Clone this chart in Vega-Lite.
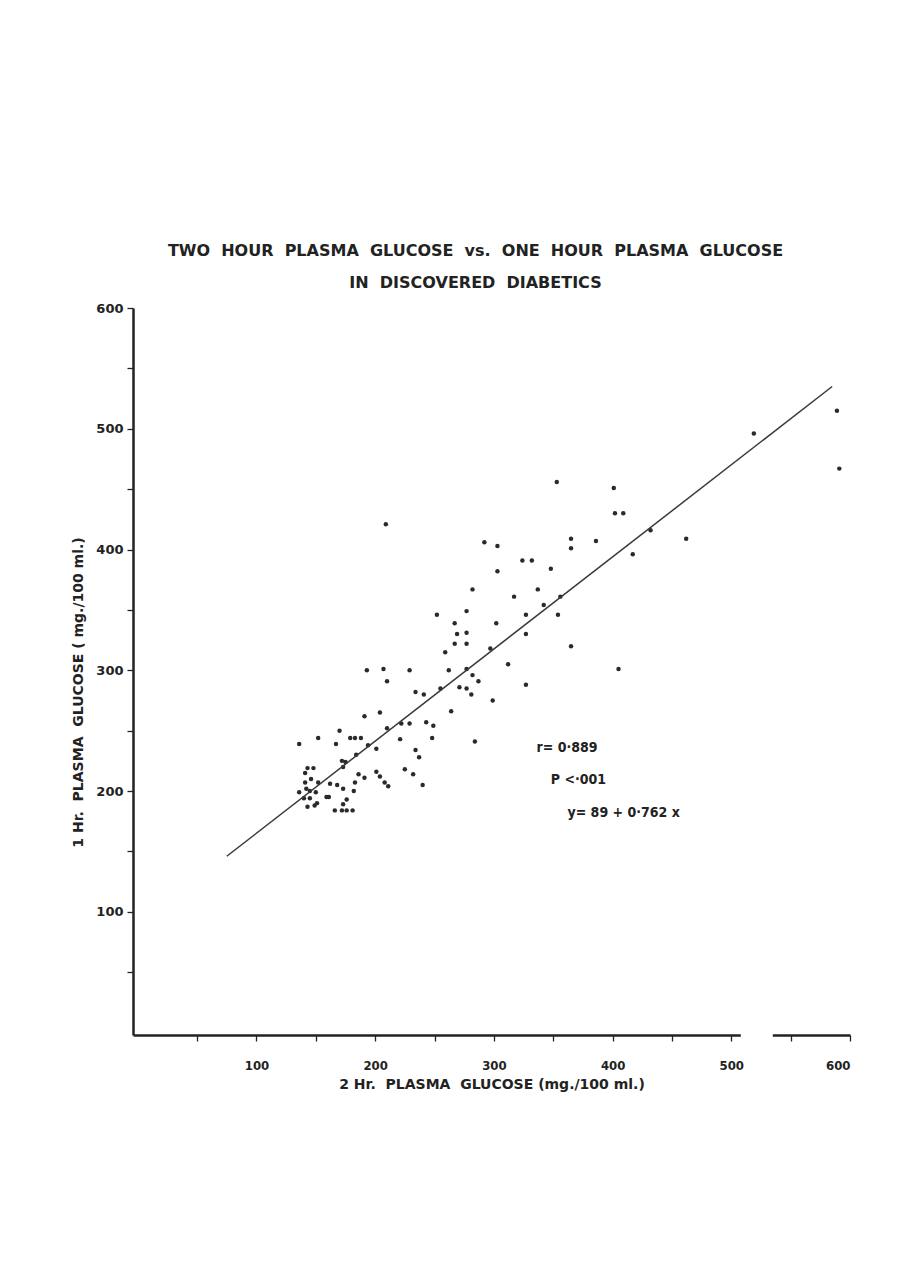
{
  "$schema": "https://vega.github.io/schema/vega-lite/v6.json",
  "width": 717,
  "height": 727,
  "autosize": "none",
  "padding": {"left": 133, "top": 308, "right": 66, "bottom": 252},
  "background": "white",
  "config": {
    "view": {"stroke": null},
    "font": "DejaVu Sans, sans-serif",
    "axis": {
      "grid": false,
      "domainColor": "#222",
      "domainWidth": 2.5,
      "tickColor": "#222",
      "tickWidth": 1.3,
      "tickSize": 6,
      "labelFont": "DejaVu Sans Condensed, DejaVu Sans, sans-serif",
      "labelFontWeight": "bold",
      "labelFontSize": 13,
      "labelColor": "#222",
      "titleFont": "DejaVu Sans, sans-serif",
      "titleFontWeight": "bold",
      "titleFontSize": 14,
      "titleColor": "#222"
    }
  },
  "title": {
    "text": ["TWO\u00a0 HOUR\u00a0 PLASMA\u00a0 GLUCOSE\u00a0 vs.\u00a0 ONE\u00a0 HOUR\u00a0 PLASMA\u00a0 GLUCOSE", "IN\u00a0 DISCOVERED\u00a0 DIABETICS"],
    "font": "DejaVu Sans, sans-serif",
    "fontSize": 16,
    "fontWeight": "bold",
    "color": "#222",
    "lineHeight": 32,
    "offset": 11,
    "dx": -16,
    "anchor": "middle"
  },
  "datasets": {
    "points": [
      {"x2h": 353, "y1h": 456}, {"x2h": 401, "y1h": 451}, {"x2h": 402, "y1h": 430}, {"x2h": 409, "y1h": 430},
      {"x2h": 209, "y1h": 421}, {"x2h": 292, "y1h": 406}, {"x2h": 303, "y1h": 403}, {"x2h": 365, "y1h": 409},
      {"x2h": 365, "y1h": 401}, {"x2h": 386, "y1h": 407}, {"x2h": 324, "y1h": 391}, {"x2h": 332, "y1h": 391},
      {"x2h": 303, "y1h": 382}, {"x2h": 348, "y1h": 384}, {"x2h": 282, "y1h": 367}, {"x2h": 337, "y1h": 367},
      {"x2h": 317, "y1h": 361}, {"x2h": 356, "y1h": 361}, {"x2h": 342, "y1h": 354}, {"x2h": 432, "y1h": 416},
      {"x2h": 417, "y1h": 396}, {"x2h": 462, "y1h": 409}, {"x2h": 519, "y1h": 496}, {"x2h": 589, "y1h": 515},
      {"x2h": 591, "y1h": 467}, {"x2h": 327, "y1h": 346}, {"x2h": 354, "y1h": 346}, {"x2h": 327, "y1h": 330},
      {"x2h": 365, "y1h": 320}, {"x2h": 405, "y1h": 301}, {"x2h": 327, "y1h": 288},
      {"x2h": 252, "y1h": 346}, {"x2h": 277, "y1h": 349}, {"x2h": 267, "y1h": 339}, {"x2h": 302, "y1h": 339},
      {"x2h": 269, "y1h": 330}, {"x2h": 277, "y1h": 331}, {"x2h": 267, "y1h": 322}, {"x2h": 277, "y1h": 322},
      {"x2h": 259, "y1h": 315}, {"x2h": 297, "y1h": 318}, {"x2h": 312, "y1h": 305}, {"x2h": 207, "y1h": 301},
      {"x2h": 229, "y1h": 300}, {"x2h": 262, "y1h": 300}, {"x2h": 277, "y1h": 301}, {"x2h": 282, "y1h": 296},
      {"x2h": 287, "y1h": 291}, {"x2h": 210, "y1h": 291}, {"x2h": 271, "y1h": 286}, {"x2h": 277, "y1h": 285},
      {"x2h": 281, "y1h": 280}, {"x2h": 255, "y1h": 285}, {"x2h": 234, "y1h": 282}, {"x2h": 241, "y1h": 280},
      {"x2h": 299, "y1h": 275}, {"x2h": 264, "y1h": 266}, {"x2h": 204, "y1h": 265}, {"x2h": 210, "y1h": 252},
      {"x2h": 222, "y1h": 256}, {"x2h": 229, "y1h": 256}, {"x2h": 243, "y1h": 257}, {"x2h": 249, "y1h": 254},
      {"x2h": 221, "y1h": 243}, {"x2h": 248, "y1h": 244}, {"x2h": 284, "y1h": 241}, {"x2h": 234, "y1h": 234},
      {"x2h": 237, "y1h": 228}, {"x2h": 225, "y1h": 218}, {"x2h": 232, "y1h": 214}, {"x2h": 240, "y1h": 205},
      {"x2h": 204, "y1h": 212}, {"x2h": 208, "y1h": 207}, {"x2h": 211, "y1h": 204},
      {"x2h": 193, "y1h": 300}, {"x2h": 191, "y1h": 262}, {"x2h": 170, "y1h": 250}, {"x2h": 152, "y1h": 244},
      {"x2h": 136, "y1h": 239}, {"x2h": 167, "y1h": 239}, {"x2h": 179, "y1h": 244}, {"x2h": 183, "y1h": 244},
      {"x2h": 188, "y1h": 244}, {"x2h": 194, "y1h": 238}, {"x2h": 201, "y1h": 235}, {"x2h": 172, "y1h": 225},
      {"x2h": 175, "y1h": 224}, {"x2h": 173, "y1h": 220}, {"x2h": 184, "y1h": 230}, {"x2h": 143, "y1h": 219},
      {"x2h": 148, "y1h": 219}, {"x2h": 141, "y1h": 215}, {"x2h": 186, "y1h": 214}, {"x2h": 191, "y1h": 211},
      {"x2h": 201, "y1h": 216}, {"x2h": 146, "y1h": 210}, {"x2h": 141, "y1h": 207}, {"x2h": 152, "y1h": 207},
      {"x2h": 162, "y1h": 206}, {"x2h": 168, "y1h": 205}, {"x2h": 173, "y1h": 202}, {"x2h": 183, "y1h": 207},
      {"x2h": 182, "y1h": 200}, {"x2h": 136, "y1h": 199}, {"x2h": 142, "y1h": 202}, {"x2h": 150, "y1h": 199},
      {"x2h": 145, "y1h": 200}, {"x2h": 140, "y1h": 194}, {"x2h": 145, "y1h": 194}, {"x2h": 159, "y1h": 195},
      {"x2h": 161, "y1h": 195}, {"x2h": 176, "y1h": 193}, {"x2h": 143, "y1h": 187}, {"x2h": 149, "y1h": 188},
      {"x2h": 151, "y1h": 190}, {"x2h": 173, "y1h": 189}, {"x2h": 166, "y1h": 184}, {"x2h": 172, "y1h": 184},
      {"x2h": 176, "y1h": 184}, {"x2h": 181, "y1h": 184}
    ],
    "fit": [{"x2h": 75, "y1h": 146}, {"x2h": 585, "y1h": 535}],
    "notes": [
      {"label": "r= 0·889", "x2h": 336, "y1h": 236},
      {"label": "P <·001", "x2h": 348, "y1h": 209},
      {"label": "y= 89 + 0·762 x", "x2h": 362, "y1h": 182}
    ]
  },
  "layer": [
    {
      "data": {"name": "points"},
      "mark": {"type": "circle", "size": 20, "color": "#2a2a2a", "opacity": 1},
      "encoding": {
        "x": {
          "field": "x2h", "type": "quantitative",
          "scale": {"domain": [-4, 600], "nice": false, "zero": false},
          "axis": {
            "values": [50, 100, 150, 200, 250, 300, 350, 400, 450, 500, 550, 600],
            "labelExpr": "datum.value % 100 === 0 ? datum.label : ''",
            "labelPadding": 18,
            "title": "2 Hr.\u00a0  PLASMA\u00a0  GLUCOSE (mg./100 ml.)",
            "titlePadding": 5
          }
        },
        "y": {
          "field": "y1h", "type": "quantitative",
          "scale": {"domain": [-2, 600], "nice": false, "zero": false},
          "axis": {
            "values": [50, 100, 150, 200, 250, 300, 350, 400, 450, 500, 550, 600],
            "labelExpr": "datum.value % 100 === 0 ? datum.label : ''",
            "labelFont": "DejaVu Sans, sans-serif",
            "labelPadding": 4,
            "title": "1 Hr.\u00a0  PLASMA\u00a0  GLUCOSE ( mg./100 ml.)",
            "titlePadding": 10,
            "titleY": 384
          }
        }
      }
    },
    {
      "data": {"name": "fit"},
      "mark": {"type": "line", "color": "#3a3a3a", "strokeWidth": 1.5},
      "encoding": {
        "x": {"field": "x2h", "type": "quantitative"},
        "y": {"field": "y1h", "type": "quantitative"}
      }
    },
    {
      "data": {"name": "notes"},
      "mark": {"type": "text", "align": "left", "baseline": "middle", "fontSize": 14, "fontWeight": "bold", "color": "#222", "font": "DejaVu Sans Condensed, DejaVu Sans, sans-serif"},
      "encoding": {
        "x": {"field": "x2h", "type": "quantitative"},
        "y": {"field": "y1h", "type": "quantitative"},
        "text": {"field": "label"}
      }
    },
    {
      "data": {"values": [{}]},
      "mark": {"type": "rule", "color": "white", "strokeWidth": 6},
      "encoding": {
        "x": {"datum": 508},
        "x2": {"datum": 535},
        "y": {"datum": -2}
      }
    }
  ]
}
